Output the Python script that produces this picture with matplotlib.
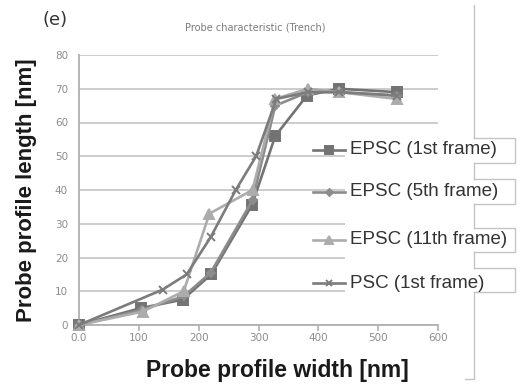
import matplotlib.pyplot as plt
from matplotlib.lines import Line2D
from matplotlib.patches import Rectangle

# Probe characteristic (Trench): profile width vs. profile length
ep1_x = [0, 103, 173, 221, 289, 328, 381, 434, 531]
ep1_y = [0, 5, 7.5, 15, 35.5, 56, 68, 70, 69]

ep5_x = [0, 105, 175, 220, 290, 328, 383, 434, 531]
ep5_y = [0, 4.5, 8.5, 15.5, 37, 65, 69, 69, 68]

ep11_x = [0, 107, 175, 218, 290, 328, 383, 434, 531]
ep11_y = [0, 4, 10, 33, 40, 67, 70, 69, 67]

psc_x = [0, 140, 180, 220, 262, 296, 330, 383, 434, 531]
psc_y = [0, 10.5, 15, 26, 40, 50, 67, 69, 69, 68]

labels = ["EPSC (1st frame)", "EPSC (5th frame)", "EPSC (11th frame)", "PSC (1st frame)"]
colors = ["#737373", "#8c8c8c", "#acacac", "#7c7c7c"]
markers = ["s", "D", "^", "x"]
msizes = [6.5, 4.5, 6.5, 5.5]

x_ticks = [0, 100, 200, 300, 400, 500, 600]
x_ticklabels = ["0.0", "100", "200", "300", "400", "500", "600"]
y_ticks = [0, 10, 20, 30, 40, 50, 60, 70, 80]

W, H = 521, 385
fig = plt.figure(figsize=(W / 100, H / 100), dpi=100)
ax = fig.add_axes([79 / W, 1 - 325 / H, (438 - 79) / W, (325 - 55) / H])

series = [(ep1_x, ep1_y), (ep5_x, ep5_y), (ep11_x, ep11_y), (psc_x, psc_y)]
for (xs, ys), c, m, ms in zip(series, colors, markers, msizes):
    ax.plot(xs, ys, color=c, marker=m, markersize=ms, linewidth=1.9,
            markeredgecolor=c, markeredgewidth=1.4, zorder=3, clip_on=False)

ax.set_xlim(0, 600)
ax.set_ylim(0, 80)
ax.set_xticks(x_ticks)
ax.set_xticklabels(x_ticklabels)
ax.set_yticks(y_ticks)
ax.yaxis.grid(True, color="#c8c8c8", linewidth=1.3)
ax.set_axisbelow(True)
for s in ["top", "right"]:
    ax.spines[s].set_visible(False)
for s in ["left", "bottom"]:
    ax.spines[s].set_color("#b0b0b0")
    ax.spines[s].set_linewidth(1.3)
ax.tick_params(axis="x", colors="#b0b0b0", labelcolor="#8c8c8c", labelsize=7.5,
               length=4, width=1.2, pad=2)
ax.tick_params(axis="y", length=0, labelcolor="#8c8c8c", labelsize=7.5, pad=8)

ax.set_xlabel("Probe profile width [nm]", fontsize=16.5, fontweight="bold",
              family="Liberation Sans", color="#1a1a1a")
ax.xaxis.set_label_coords((277 - 79) / (438 - 79), -0.125)
ax.set_ylabel("Probe profile length [nm]", fontsize=16, fontweight="bold",
              family="Liberation Sans", color="#1a1a1a", labelpad=13)

fig.text(255 / W, 1 - 27 / H, "Probe characteristic (Trench)", fontsize=7,
         color="#7a7a7a", ha="center", va="center")
fig.text(55 / W, 1 - 20 / H, "(e)", fontsize=13, color="#333333",
         ha="center", va="center")

# legend: white panel over gridlines, handles sticking out to the left
fig.patches.append(Rectangle((345 / W, 1 - 297 / H), (474 - 345) / W, (297 - 138) / H,
                             transform=fig.transFigure, facecolor="white",
                             edgecolor="none", zorder=1))
entry_y = [150, 192, 240, 283]
box_y = [(138, 163), (179, 204), (228, 252), (268, 292)]
for yy, lab, c, m, ms in zip(entry_y, labels, colors, markers, msizes):
    fy = 1 - yy / H
    fig.lines.append(Line2D([313 / W, 345 / W], [fy, fy], transform=fig.transFigure,
                            color=c, linewidth=1.9))
    fig.lines.append(Line2D([329 / W], [fy], transform=fig.transFigure, color=c,
                            marker=m, markersize=ms - 1, markeredgecolor=c,
                            markeredgewidth=1.4))
    fig.text(350 / W, fy, lab, fontsize=13.5, color="#333333", va="center",
             ha="left", family="Liberation Sans", zorder=3)

# outer chart border on the right with boxes around the legend labels
edge = "#c4c4c4"
prev = 5
for top, bot in box_y:
    fig.lines.append(Line2D([474 / W, 474 / W], [1 - prev / H, 1 - top / H],
                            transform=fig.transFigure, color=edge, linewidth=1.0))
    fig.lines.append(Line2D([474 / W, 515 / W, 515 / W, 474 / W],
                            [1 - top / H, 1 - top / H, 1 - bot / H, 1 - bot / H],
                            transform=fig.transFigure, color=edge, linewidth=1.0))
    prev = bot
fig.lines.append(Line2D([474 / W, 474 / W, 465 / W], [1 - prev / H, 1 - 379 / H, 1 - 379 / H],
                        transform=fig.transFigure, color=edge, linewidth=1.0))

fig.savefig("out.png", dpi=100)
